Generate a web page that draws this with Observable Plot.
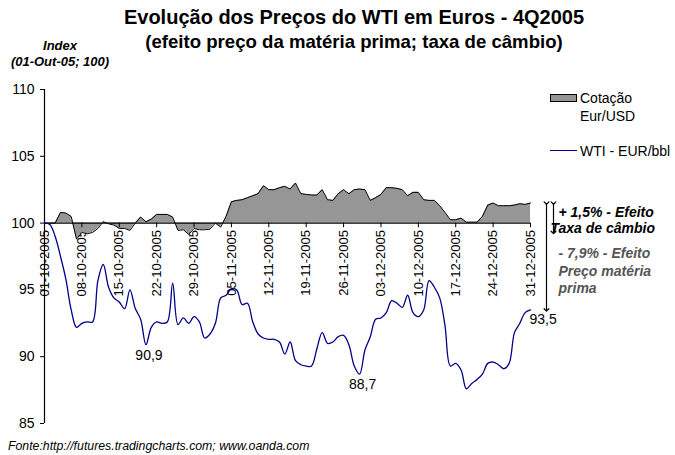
<!DOCTYPE html>
<html><head><meta charset="utf-8">
<script src="https://cdn.jsdelivr.net/npm/d3@7"></script>
<script src="https://cdn.jsdelivr.net/npm/@observablehq/plot@0.6"></script>
<style>
body{margin:0;background:#fff;font-family:"Liberation Sans",Arial,sans-serif;}
#wrap{position:relative;width:675px;height:455px;overflow:hidden;background:#fff;}
#wrap svg{position:absolute;left:0;top:0;}
.t{position:absolute;white-space:nowrap;color:#000;}
</style></head><body><div id="wrap"></div>
<script>
// ---- data (index, 01-Out-05 = 100) ----
const startDate = "2005-10-01";
const wti = [100.0,99.9,99.0,97.5,95.8,93.5,92.2,92.5,92.6,92.6,
  95.7,96.9,95.2,94.4,94.1,93.6,95.0,93.6,92.8,90.9,
  92.2,92.6,92.5,92.6,95.5,92.4,92.9,92.5,93.0,92.6,
  91.4,91.7,92.5,94.4,94.6,95.1,95.0,93.9,94.0,92.6,
  91.7,91.4,91.3,91.3,91.1,90.2,91.1,89.7,89.4,89.3,
  89.3,90.6,91.8,91.0,91.1,91.5,91.6,90.9,89.3,88.7,
  90.5,91.5,92.8,92.9,93.3,94.2,94.0,93.7,94.6,93.3,
  93.0,93.5,95.7,95.2,94.4,92.3,89.3,89.5,89.0,87.6,
  88.0,88.3,88.7,89.5,89.6,89.4,89.1,89.5,91.8,92.5,
  93.3,93.5];
const eurusd = [100.0,100.0,100.0,100.8,100.75,100.5,98.8,99.3,99.2,99.3,
  99.6,100.1,99.95,99.85,99.6,99.6,99.45,100.0,100.45,100.1,
  100.3,100.65,100.65,100.65,100.45,99.45,99.5,99.15,99.6,99.5,
  99.5,99.55,100.0,99.7,100.5,101.6,101.7,101.75,101.9,102.05,
  102.2,102.8,102.5,102.5,102.65,102.75,102.55,103.0,102.2,102.15,
  102.1,102.1,102.5,101.75,101.7,102.2,102.5,102.2,102.5,102.55,
  102.5,101.7,101.9,102.15,102.65,102.65,102.6,102.5,102.05,102.3,
  102.3,101.75,101.7,101.7,101.3,100.8,100.25,100.25,100.37,100.07,
  100.07,100.07,100.5,101.35,101.5,101.3,101.3,101.3,101.35,101.45,
  101.4,101.5];
const tickLabels = ["01-10-2005","08-10-2005","15-10-2005","22-10-2005","29-10-2005",
  "05-11-2005","12-11-2005","19-11-2005","26-11-2005","03-12-2005","10-12-2005",
  "17-12-2005","24-12-2005","31-12-2005"];
const yTicks = [85, 90, 95, 100, 105, 110];
const labelledDays = [19, 59];

// ---- build ----
const fmt = v => v.toFixed(1).replace(".", ",");
const parse = d3.utcParse("%d-%m-%Y");
const t0 = new Date(startDate);
const rows = wti.map((v, i) => ({date: d3.utcDay.offset(t0, i), wti: v, eur: eurusd[i]}));
const tickDates = tickLabels.map(parse);
const last = rows[rows.length - 1];
const labelled = labelledDays.map(i => rows[i]);
const eurEffect = (last.eur / rows[0].eur - 1) * 100;
const priceEffect = (last.wti / last.eur - 1) * 100;
const sgn = v => (v >= 0 ? "+ " : "- ") + fmt(Math.abs(v)) + "%";
const bi = {fontSize: 14, fontWeight: "bold", fontStyle: "italic", textAnchor: "start"};

const chart = Plot.plot({
  width: 675, height: 455,
  marginLeft: 44, marginRight: 145, marginTop: 89, marginBottom: 32,
  style: {fontFamily: "'Liberation Sans', Arial, sans-serif", fontSize: "14px", background: "transparent", color: "#000"},
  x: {type: "utc", domain: [rows[0].date, last.date], axis: null},
  y: {domain: [yTicks[0], yTicks[yTicks.length - 1]], ticks: yTicks, tickSize: 4, tickPadding: 6, label: null, tickFormat: d => String(d)},
  marks: [
    Plot.text(tickDates, {x: d => d, y: () => 100, text: (d, i) => tickLabels[i], rotate: -90, textAnchor: "end", dy: 7, fontSize: 13, fill: "#000"}),
    Plot.areaY(rows, {x: "date", y1: () => 100, y2: "eur", fill: "#969696"}),
    Plot.line(rows, {x: "date", y: "eur", stroke: "#000", strokeWidth: 1}),
    Plot.ruleY([100], {stroke: "#000", strokeWidth: 1.2}),
    Plot.ruleX(tickDates, {x: d => d, y1: () => 100, y2: () => 99.65, stroke: "#000"}),
    Plot.ruleX([rows[0].date], {y1: yTicks[0], y2: yTicks[yTicks.length - 1], stroke: "#000", strokeWidth: 1.2}),
    Plot.line(rows, {x: "date", y: "wti", stroke: "#00008b", strokeWidth: 1.3, curve: "catmull-rom"}),
    Plot.text(labelled, {x: "date", y: "wti", text: d => fmt(d.wti), dy: 5, dx: 3, textAnchor: "middle", lineAnchor: "top", fontSize: 14, fill: "#000"}),
    Plot.text([last], {x: "date", y: "wti", text: d => fmt(d.wti), dy: 4, dx: -1, textAnchor: "start", lineAnchor: "top", fontSize: 14, fill: "#000"}),
    Plot.link([last], {x1: "date", x2: "date", y1: "eur", y2: "wti", dx: 16, stroke: "#000", strokeWidth: 1.2, markerStart: "arrow", markerEnd: "arrow"}),
    Plot.link([last], {x1: "date", x2: "date", y1: "eur", y2: () => 99.3, dx: 23, stroke: "#000", strokeWidth: 1.2, markerStart: "arrow", markerEnd: "arrow"}),
    Plot.text([last], {x: "date", y: "eur", text: () => sgn(eurEffect) + " - Efeito", dx: 28, dy: 9, ...bi, fill: "#000"}),
    Plot.text([last], {x: "date", y: "eur", text: () => "Taxa de câmbio", dx: 20, dy: 25, ...bi, fill: "#000"}),
    Plot.text([last], {x: "date", y: "eur", text: () => sgn(priceEffect) + " - Efeito\nPreço matéria\nprima", dx: 28, dy: 67, lineHeight: 1.22, ...bi, fill: "#555"})
  ]
});

const wrap = document.getElementById("wrap");
wrap.appendChild(chart);
function addText(html, css) {
  const d = document.createElement("div");
  d.className = "t";
  d.innerHTML = html;
  Object.assign(d.style, css);
  wrap.appendChild(d);
  return d;
}
addText("Evolução dos Preços do WTI em Euros - 4Q2005",
  {left: "354px", top: "5px", transform: "translateX(-50%)", textAlign: "center", fontWeight: "bold", fontSize: "20px", lineHeight: "24px"});
addText("(efeito preço da matéria prima; taxa de câmbio)",
  {left: "354px", top: "30px", transform: "translateX(-50%)", textAlign: "center", fontWeight: "bold", fontSize: "18.6px", lineHeight: "24px"});
addText("Index<br>(01-Out-05; 100)",
  {left: "60px", top: "38px", transform: "translateX(-50%)", textAlign: "center", fontWeight: "bold", fontStyle: "italic", fontSize: "13px", lineHeight: "16px"});
addText("", {left: "550px", top: "94px", width: "25px", height: "6px", background: "#969696", border: "1px solid #000"});
addText("Cotação<br>Eur/USD", {left: "580px", top: "90px", fontSize: "14px", lineHeight: "17.5px"});
addText("", {left: "550px", top: "150px", width: "27px", height: "0px", borderTop: "1.3px solid #00008b"});
addText("WTI - EUR/bbl", {left: "580px", top: "143px", fontSize: "14px", lineHeight: "16px"});
addText("Fonte:http://futures.tradingcharts.com; www.oanda.com",
  {left: "8px", top: "439px", fontStyle: "italic", fontSize: "12.3px", lineHeight: "14px"});
</script></body></html>
